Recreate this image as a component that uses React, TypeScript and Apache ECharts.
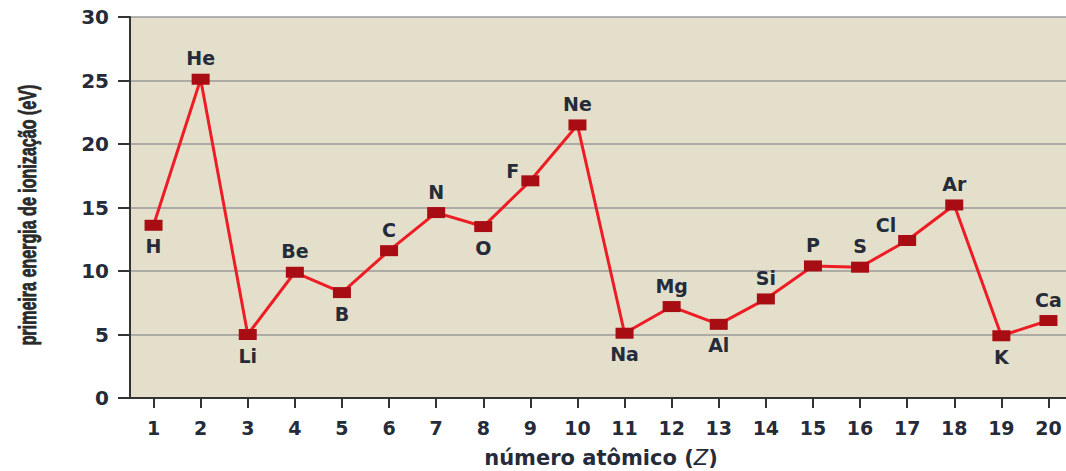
import React, { useEffect, useRef } from "react";
import * as echarts from "echarts";

const atomicNumbers = ["1", "2", "3", "4", "5", "6", "7", "8", "9", "10", "11", "12", "13", "14", "15", "16", "17", "18", "19", "20"];
const elements = ["H", "He", "Li", "Be", "B", "C", "N", "O", "F", "Ne", "Na", "Mg", "Al", "Si", "P", "S", "Cl", "Ar", "K", "Ca"];
const energies = [13.6, 25.1, 5.0, 9.9, 8.3, 11.6, 14.6, 13.5, 17.1, 21.5, 5.1, 7.2, 5.8, 7.8, 10.4, 10.3, 12.4, 15.2, 4.9, 6.1];
const labelSides = ["bottom", "top", "bottom", "top", "bottom", "top", "top", "bottom", "topleft", "top", "bottom", "top", "bottom", "top", "top", "top", "topleft", "top", "bottom", "top"];
const yTicks = [0, 5, 10, 15, 20, 25, 30];
const yAxisTitle = "primeira energia de ionização (eV)";

const TEXT = "#262b3a";

export default function App() {
  const ref = useRef<HTMLDivElement>(null);
  useEffect(() => {
    if (!ref.current) return;
    const chart = echarts.init(ref.current, null, { renderer: "svg" });
    const data = energies.map((v, i) => {
      const side = labelSides[i];
      let label: any;
      if (side === "topleft") {
        label = { position: "left", distance: 2, offset: [0, i === 16 ? -16 : -10] };
      } else {
        label = { position: side, distance: 6 };
      }
      return { value: v, name: elements[i], label };
    });
    chart.setOption({
      animation: false,
      grid: {
        left: 130,
        right: -6,
        top: 17,
        bottom: 73,
        show: true,
        backgroundColor: "#e3dfca",
        borderWidth: 0,
        containLabel: false,
        outerBoundsMode: "none",
      },
      graphic: [
        {
          type: "text",
          x: 28,
          y: 215,
          rotation: Math.PI / 2,
          scaleX: 0.67,
          style: {
            text: yAxisTitle,
            fontFamily: "Liberation Sans",
            fontWeight: "bold",
            fontSize: 24,
            fill: "#2a2a2a",
            stroke: "#2a2a2a",
            lineWidth: 0.8,
            textAlign: "center",
            textVerticalAlign: "middle",
          },
        },
      ],
      xAxis: {
        type: "category",
        data: atomicNumbers,
        boundaryGap: true,
        axisLine: { show: true, lineStyle: { color: "#333", width: 2 } },
        axisTick: { show: true, alignWithLabel: true, length: 10, lineStyle: { color: "#333", width: 2 } },
        axisLabel: {
          margin: 20,
          color: TEXT,
          fontFamily: "DejaVu Sans",
          fontWeight: "bold",
          fontSize: 19,
        },
        name: "{b|número atômico (}{i|Z}{b|)}",
        nameLocation: "middle",
        nameGap: 49,
        nameTextStyle: {
          rich: {
            b: { fontFamily: "DejaVu Sans", fontWeight: "bold", fontSize: 21, lineHeight: 22, color: TEXT },
            i: { fontFamily: "DejaVu Sans", fontStyle: "italic", fontSize: 21, lineHeight: 22, color: TEXT },
          },
        },
      },
      yAxis: {
        type: "value",
        min: yTicks[0],
        max: yTicks[yTicks.length - 1],
        interval: 5,
        axisLine: { show: true, lineStyle: { color: "#333", width: 2 } },
        axisTick: { show: true, length: 12, lineStyle: { color: "#333", width: 2 } },
        splitLine: { show: true, lineStyle: { color: "#9a9a9a", width: 1.5 } },
        axisLabel: {
          margin: 21,
          color: TEXT,
          fontFamily: "DejaVu Sans",
          fontWeight: "bold",
          fontSize: 20,
        },
      },
      series: [
        {
          type: "line",
          data,
          symbol: "rect",
          symbolSize: [18, 11],
          itemStyle: { color: "#a80d14" },
          lineStyle: { color: "#ee1c24", width: 3 },
          label: {
            show: true,
            formatter: (p: any) => p.name,
            fontFamily: "DejaVu Sans",
            fontWeight: "bold",
            fontSize: 19,
            color: TEXT,
          },
        },
      ],
    });
    return () => chart.dispose();
  }, []);
  return (
    <div
      ref={ref}
      style={{ position: "fixed", left: 0, top: 0, width: 1066, height: 471, background: "#fff" }}
    />
  );
}
